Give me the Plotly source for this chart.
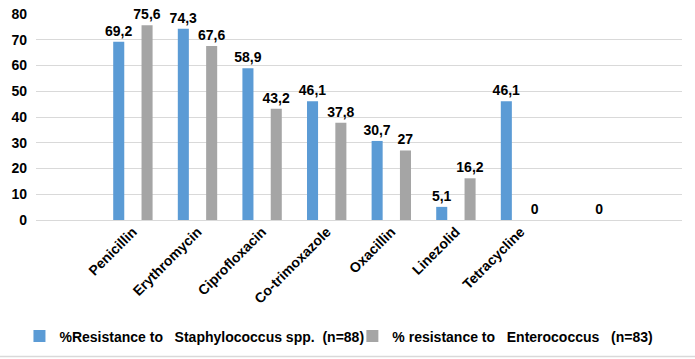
import plotly.graph_objects as go

categories = [" ", "Penicillin", "Erythromycin", "Ciprofloxacin", "Co-trimoxazole",
              "Oxacillin", "Linezolid", "Tetracycline", "  ", "   "]
staph = [None, 69.2, 74.3, 58.9, 46.1, 30.7, 5.1, 46.1, None, None]
entero = [None, 75.6, 67.6, 43.2, 37.8, 27, 16.2, 0, 0, None]
y_ticks = [0, 10, 20, 30, 40, 50, 60, 70, 80]

series_names = ["%Resistance to   Staphylococcus spp.  (n=88)",
                "% resistance to   Enterococcus   (n=83)"]
colors = ["#5B9BD5", "#A5A5A5"]


def fmt(v):
    return "" if v is None else f"{v:g}".replace(".", ",")


FONT = "Liberation Sans, Arial, sans-serif"
fig = go.Figure()
for i, (name, vals, col) in enumerate(zip(series_names, [staph, entero], colors)):
    fig.add_trace(go.Bar(
        x=categories, y=vals, name=name,
        marker=dict(color=col, line=dict(width=0)),
        text=[fmt(v) for v in vals], textposition="outside",
        textfont=dict(family=FONT, size=14, color="#000000", weight="bold"),
        constraintext="none",
        cliponaxis=False,
        legend="legend" if i == 0 else "legend2",
    ))

legend_common = dict(orientation="h", xref="container", yref="container",
                     xanchor="left", yanchor="middle", y=0.0627,
                     font=dict(family=FONT, size=14, color="#000000", weight="bold"),
                     itemwidth=30, bgcolor="rgba(0,0,0,0)", borderwidth=0)

fig.update_layout(
    width=695, height=359,
    template="none",
    paper_bgcolor="white", plot_bgcolor="white",
    margin=dict(l=36, r=13, t=14, b=139, pad=0),
    barmode="group", bargap=0.123, bargroupgap=0.61,
    font=dict(family=FONT, size=14, color="#000000"),
    showlegend=True,
    legend=dict(x=0.028, **legend_common),
    legend2=dict(x=0.507, **legend_common),
)
fig.update_xaxes(type="category", tickangle=-45, showgrid=False, showline=False,
                 ticks="", automargin=False,
                 tickfont=dict(family=FONT, size=14, color="#000000", weight="bold"))
fig.update_yaxes(range=[0, 80], tickvals=y_ticks, showgrid=True, gridcolor="#D9D9D9",
                 gridwidth=1, zeroline=True, zerolinecolor="#D9D9D9", zerolinewidth=1,
                 showline=False, ticks="", automargin=False, ticklabelstandoff=8,
                 tickfont=dict(family=FONT, size=14, color="#000000", weight="bold"))

fig.add_shape(type="line", xref="paper", yref="paper",
              x0=-36 / 646, x1=(695 - 36) / 646, y0=-(357 - 220.3) / 206.3,
              y1=-(357 - 220.3) / 206.3, line=dict(color="#D9D9D9", width=1.5))

fig.write_html("out.html",
               config={"displayModeBar": False},
               post_script="document.body.style.margin='0';"
                           "document.body.style.overflow='hidden';")
